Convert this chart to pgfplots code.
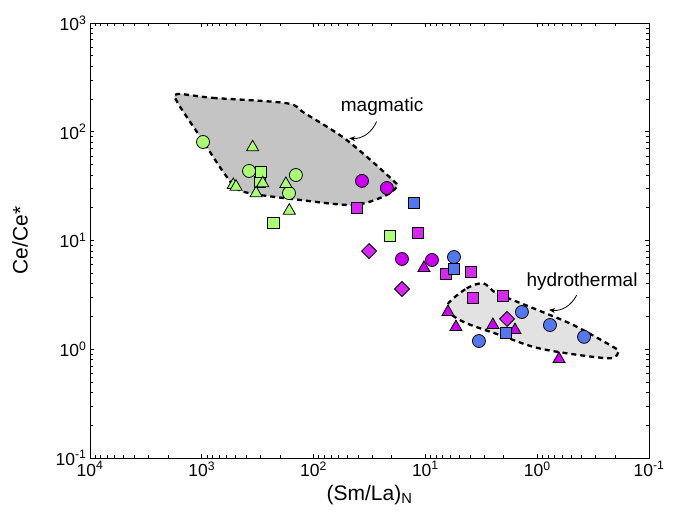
\documentclass[border=0pt]{standalone}
\usepackage{fontspec}
\setmainfont{Liberation Sans}
\usepackage{pgfplots}
\pgfplotsset{compat=1.18}
\usetikzlibrary{arrows.meta}

\definecolor{cgreen}{RGB}{170,255,119}
\definecolor{cmag}{RGB}{204,0,238}
\definecolor{cmagsq}{RGB}{214,40,240}
\definecolor{cblue}{RGB}{85,119,238}
\definecolor{magfill}{RGB}{196,196,196}
\definecolor{hydfill}{RGB}{226,226,226}

\pgfplotsset{
  circ/.style={only marks, mark=*, mark size=6.5pt, mark options={fill=#1, draw=black, line width=0.8pt}},
  tri/.style={only marks, mark=triangle*, mark size=7pt, mark options={fill=#1, draw=black, line width=0.8pt}},
  sq/.style={only marks, mark=square*, mark size=5.6pt, mark options={fill=#1, draw=black, line width=0.8pt}},
  dia/.style={only marks, mark=square*, mark size=5.3pt, mark options={fill=#1, draw=black, line width=0.8pt, rotate=45}},
  field/.style={draw=black, line width=2.3pt, dash pattern=on 5pt off 4pt, fill=#1, smooth cycle, tension=0.5, no markers},
}

\begin{document}
\begin{tikzpicture}
\begin{axis}[
  scale only axis, width=559pt, height=435pt,
  xmode=log, ymode=log, x dir=reverse,
  xmin=0.1, xmax=1e4, ymin=0.1, ymax=1000,
  xtick={0.1,1,10,100,1000,10000},
  xticklabels={10\textsuperscript{-1},10\textsuperscript{0},10\textsuperscript{1},10\textsuperscript{2},10\textsuperscript{3},10\textsuperscript{4}},
  ytick={0.1,1,10,100,1000},
  yticklabels={10\textsuperscript{-1},10\textsuperscript{0},10\textsuperscript{1},10\textsuperscript{2},10\textsuperscript{3}},
  tick align=inside,
  axis line style={line width=0.9pt},
  every tick/.style={black, line width=0.7pt},
  tick label style={font=\fontsize{17.5}{20}\selectfont},
  label style={font=\fontsize{21}{24}\selectfont},
  xlabel={(Sm/La)\textsubscript{N}},
  ylabel={Ce/Ce*},
  xlabel style={at={(axis description cs:0.5,-0.055)}, anchor=north},
  ylabel style={at={(axis description cs:-0.125,0.5)}, anchor=center},
  clip=false,
]
% fields
\addplot[field=magfill] coordinates {
 (1650,222) (800,205) (174,183) (120,148) (50.6,84) (19.6,36) (18.1,31.0) (23.8,25.3)
 (44.2,21.2) (132,23.6) (425,28.1) (599,38.6) (1050,92) (1650,186)
};
\addplot[field=hydfill] coordinates {
 (6.24,2.64) (4.27,3.63) (3.03,4.04) (2.30,3.27) (1.08,2.38) (0.475,1.67)
 (0.209,1.05) (0.188,0.95) (0.223,0.826) (0.545,0.918) (1.08,1.05)
 (2.15,1.35) (4.27,1.73) (6.03,2.14)
};

% green
\addplot[circ=cgreen] coordinates {(975,80.5) (378,43.6) (144,40) (166,27.3)};
\addplot[sq=cgreen] coordinates {(301,34.5) (295,42.4) (229,14.4) (20.7,11.0)};
\addplot[tri=cgreen] coordinates {(351,72) (523,32.4) (494,31.2) (285,33.6) (327,27.2) (177,33.1) (165,18.8)};

% magenta
\addplot[circ=cmag] coordinates {(36.9,35.3) (22.1,30.4) (16.2,6.76) (8.73,6.62)};
\addplot[sq=cmagsq] coordinates {(40.9,19.9) (11.6,11.7) (6.54,4.92) (3.91,5.13) (3.75,2.96) (2.02,3.09)};
\addplot[dia=cmagsq] coordinates {(31.9,8.0) (16.2,3.58) (1.86,1.90)};
\addplot[tri=cmag] coordinates {(10.3,5.59) (6.28,2.20) (5.33,1.60) (2.49,1.67) (1.58,1.50) (0.638,0.813)};

% blue
\addplot[circ=cblue] coordinates {(5.55,7.05) (3.32,1.19) (1.37,2.20) (0.769,1.67) (0.381,1.30)};
\addplot[sq=cblue] coordinates {(12.6,22.1) (5.55,5.47) (1.90,1.41)};

% labels
\node[font=\fontsize{19}{22}\selectfont] at (axis cs:24.4,169) {magmatic};
\draw[-{Stealth[length=6pt,width=5pt]}, line width=0.8pt] (axis cs:27.3,124) to[bend left=35] (axis cs:48,87);
\node[font=\fontsize{19}{22}\selectfont] at (axis cs:0.397,4.15) {hydrothermal};
\draw[-{Stealth[length=6pt,width=5pt]}, line width=0.8pt] (axis cs:0.443,3.15) to[bend left=35] (axis cs:0.784,2.30);
\end{axis}
\path ([xshift=-90pt,yshift=-58pt]current axis.south west) rectangle ([xshift=32pt,yshift=23pt]current axis.north east);
\end{tikzpicture}
\end{document}
